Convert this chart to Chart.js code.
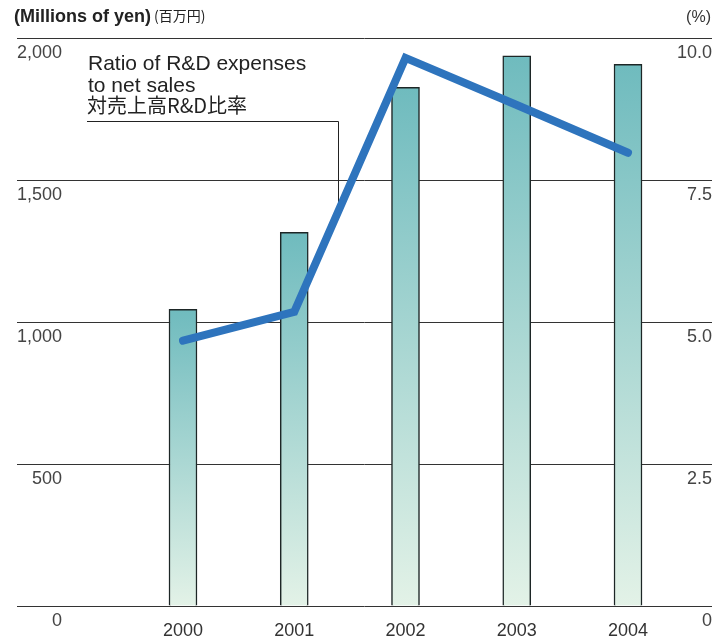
<!DOCTYPE html>
<html>
<head>
<meta charset="utf-8">
<script src="https://cdn.jsdelivr.net/npm/chart.js@4.4.1/dist/chart.umd.min.js"></script>
<style>
  html, body { margin: 0; padding: 0; background: #fff; }
  #wrap { width: 717px; height: 640px; position: relative; }
</style>
</head>
<body>
<div id="wrap"><canvas id="c" width="717" height="640"></canvas></div>
<script>
// Fiscal years shown on the horizontal axis
const years = ['2000', '2001', '2002', '2003', '2004'];
// R&D expenses, millions of yen (bars, left axis)
const rdExpenses = [1045, 1316, 1826, 1937, 1907];
// Ratio of R&D expenses to net sales, % (line, right axis)
const rdRatio = [4.67, 5.18, 9.65, 8.82, 7.98];
// Axis tick values
const yenTicks = [0, 500, 1000, 1500, 2000];
const ratioTicks = [0, 2.5, 5, 7.5, 10];

const SANS = '"Liberation Sans", Arial, sans-serif';
const CJK = '"Noto Sans CJK JP", "Liberation Sans", sans-serif';

Chart.defaults.font.family = SANS;

// Each bar fades from teal at its top to pale green at the baseline
function barFill(ctx) {
  const chart = ctx.chart;
  const y = chart.scales.y;
  if (!chart.chartArea || !y || ctx.type !== 'data') return '#8ccaca';
  const v = rdExpenses[ctx.dataIndex];
  const top = y.getPixelForValue(v);
  const bottom = y.getPixelForValue(0);
  const g = chart.ctx.createLinearGradient(0, top, 0, bottom);
  g.addColorStop(0, '#6fbbbe');
  g.addColorStop(1, '#e3f2e7');
  return g;
}

// Header captions and the callout for the ratio line
const notes = {
  id: 'notes',
  beforeDatasetsDraw(chart) {
    const ctx = chart.ctx;
    const pts = chart.getDatasetMeta(1).data;
    const lx = 338, ly = 121.5;
    let ay = ly;
    for (let i = 0; i < pts.length - 1; i++) {
      const a = pts[i], b = pts[i + 1];
      if (lx >= a.x && lx <= b.x) {
        ay = a.y + (b.y - a.y) * (lx - a.x) / (b.x - a.x);
      }
    }
    ctx.save();
    ctx.strokeStyle = '#222';
    ctx.lineWidth = 1;
    ctx.beginPath();
    ctx.moveTo(87, ly);
    ctx.lineTo(lx + 0.5, ly);
    ctx.lineTo(lx + 0.5, ay);
    ctx.stroke();
    ctx.restore();
  },
  afterDraw(chart) {
    const ctx = chart.ctx;
    ctx.save();
    ctx.fillStyle = '#222';
    ctx.textBaseline = 'alphabetic';
    ctx.textAlign = 'left';
    ctx.font = 'bold 18px ' + SANS;
    ctx.fillText('(Millions of yen)', 14, 22);
    const w = ctx.measureText('(Millions of yen)').width;
    ctx.font = '14px ' + CJK;
    ctx.fillText('(百万円)', 14 + w + 3, 21);
    ctx.font = '16px ' + SANS;
    ctx.fillStyle = '#333';
    ctx.textAlign = 'right';
    ctx.fillText('(%)', 711, 22);

    ctx.fillStyle = '#222';
    ctx.textAlign = 'left';
    ctx.font = '21px ' + SANS;
    ctx.fillText('Ratio of R&D expenses', 88, 70);
    ctx.fillText('to net sales', 88, 92);
    ctx.font = '20px ' + CJK;
    ctx.fillText('対売上高R&D比率', 87, 113);
    ctx.restore();
  }
};

new Chart(document.getElementById('c'), {
  type: 'bar',
  data: {
    datasets: [
      {
        type: 'bar',
        label: 'R&D expenses',
        data: rdExpenses.map((v, i) => ({ x: i, y: v })),
        yAxisID: 'y',
        backgroundColor: barFill,
        borderColor: '#1d2626',
        borderWidth: 1.5,
        barThickness: 28,
        order: 2
      },
      {
        type: 'line',
        label: 'Ratio of R&D expenses to net sales',
        data: rdRatio.map((v, i) => ({ x: i, y: v })),
        yAxisID: 'y2',
        borderColor: '#2e74bd',
        borderWidth: 8,
        borderCapStyle: 'round',
        borderJoinStyle: 'miter',
        pointRadius: 0,
        pointHoverRadius: 0,
        tension: 0,
        fill: false,
        order: 1
      }
    ]
  },
  options: {
    responsive: false,
    animation: false,
    events: [],
    layout: { padding: { left: 17, right: 5, top: 38, bottom: -16 } },
    plugins: { legend: { display: false }, tooltip: { enabled: false } },
    scales: {
      x: {
        type: 'linear',
        min: -1.492,
        max: 4.755,
        offset: false,
        grid: { display: false, drawTicks: false },
        border: { display: false },
        afterBuildTicks: s => { s.ticks = years.map((_, i) => ({ value: i })); },
        ticks: {
          padding: 16,
          color: '#333',
          font: { size: 18, lineHeight: 1 },
          maxRotation: 0,
          autoSkip: false,
          callback: v => years[v]
        }
      },
      y: {
        position: 'left',
        min: 0,
        max: 2000,
        afterBuildTicks: s => { s.ticks = yenTicks.map(v => ({ value: v })); },
        grid: { color: '#333', lineWidth: 1, drawTicks: false },
        border: { display: false },
        ticks: {
          mirror: true,
          crossAlign: 'far',
          padding: 0,
          labelOffset: 15,
          color: '#444',
          font: { size: 18 },
          callback: v => v.toLocaleString('en-US')
        }
      },
      y2: {
        position: 'right',
        min: 0,
        max: 10,
        afterBuildTicks: s => { s.ticks = ratioTicks.map(v => ({ value: v })); },
        grid: { display: false, drawTicks: false },
        border: { display: false },
        ticks: {
          mirror: true,
          crossAlign: 'near',
          padding: 0,
          labelOffset: 15,
          color: '#444',
          font: { size: 18 },
          callback: v => (v === 0 ? '0' : v.toFixed(1))
        }
      }
    }
  },
  plugins: [notes]
});
</script>
</body>
</html>
